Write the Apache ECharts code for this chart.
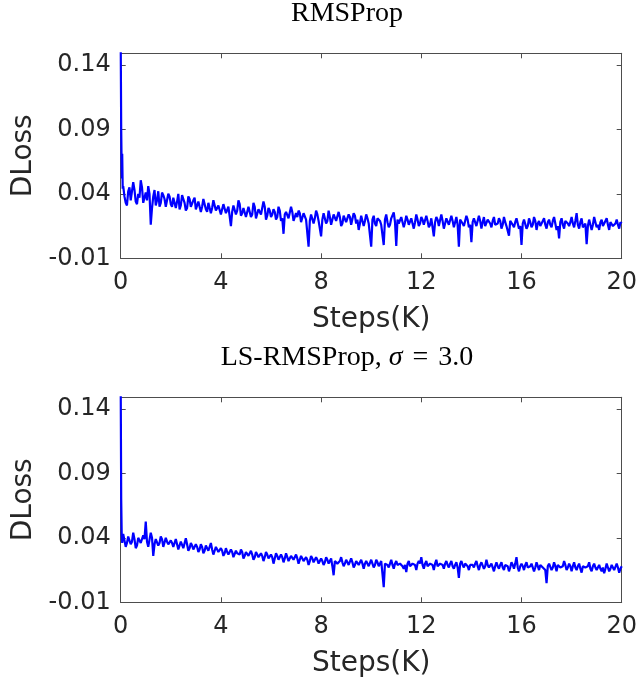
<!DOCTYPE html>
<html>
<head>
<meta charset="utf-8">
<script src="https://cdn.jsdelivr.net/npm/echarts@6/dist/echarts.min.js"></script>
<style>
html,body{margin:0;padding:0;background:#fff;}
#chart{width:641px;height:681px;}
</style>
</head>
<body>
<div id="chart"></div>
<script>
// ---------------- data ----------------
const titles = ['RMSProp', 'LS-RMSProp, {i|σ}{sp| }={sp| }3.0'];
const xName = 'Steps(K)';
const yName = 'DLoss';
const xTickLabels = ['0', '4', '8', '12', '16', '20'];
const yTickLabels = ['-0.01', '0.04', '0.09', '0.14'];

// first few logged points (steps in K)
const headSteps = [0, 0.02, 0.04, 0.06, 0.08];
const rmsHead = [0.16, 0.09, 0.058, 0.071, 0.044];
const lsHead = [0.16, 0.07, 0.043, 0.036, 0.041];

// logged points on the 0.1K grid
const bodySteps = [
0.1,0.2,0.3,0.4,0.5,0.6,0.7,0.8,0.9,1.0,
1.1,1.2,1.3,1.4,1.5,1.6,1.7,1.8,1.9,2.0,
2.1,2.2,2.3,2.4,2.5,2.6,2.7,2.8,2.9,3.0,
3.1,3.2,3.3,3.4,3.5,3.6,3.7,3.8,3.9,4.0,
4.1,4.2,4.3,4.4,4.5,4.6,4.7,4.8,4.9,5.0,
5.1,5.2,5.3,5.4,5.5,5.6,5.7,5.8,5.9,6.0,
6.1,6.2,6.3,6.4,6.5,6.6,6.7,6.8,6.9,7.0,
7.1,7.2,7.3,7.4,7.5,7.6,7.7,7.8,7.9,8.0,
8.1,8.2,8.3,8.4,8.5,8.6,8.7,8.8,8.9,9.0,
9.1,9.2,9.3,9.4,9.5,9.6,9.7,9.8,9.9,10.0,
10.1,10.2,10.3,10.4,10.5,10.6,10.7,10.8,10.9,11.0,
11.1,11.2,11.3,11.4,11.5,11.6,11.7,11.8,11.9,12.0,
12.1,12.2,12.3,12.4,12.5,12.6,12.7,12.8,12.9,13.0,
13.1,13.2,13.3,13.4,13.5,13.6,13.7,13.8,13.9,14.0,
14.1,14.2,14.3,14.4,14.5,14.6,14.7,14.8,14.9,15.0,
15.1,15.2,15.3,15.4,15.5,15.6,15.7,15.8,15.9,16.0,
16.1,16.2,16.3,16.4,16.5,16.6,16.7,16.8,16.9,17.0,
17.1,17.2,17.3,17.4,17.5,17.6,17.7,17.8,17.9,18.0,
18.1,18.2,18.3,18.4,18.5,18.6,18.7,18.8,18.9,19.0,
19.1,19.2,19.3,19.4,19.5,19.6,19.7,19.8,19.9,20.0
];

// logged points half-way between the grid points
const midSteps = [
0.05,0.15,0.25,0.35,0.45,0.55,0.65,0.75,0.85,0.95,
1.05,1.15,1.25,1.35,1.45,1.55,1.65,1.75,1.85,1.95,
2.05,2.15,2.25,2.35,2.45,2.55,2.65,2.75,2.85,2.95,
3.05,3.15,3.25,3.35,3.45,3.55,3.65,3.75,3.85,3.95,
4.05,4.15,4.25,4.35,4.45,4.55,4.65,4.75,4.85,4.95,
5.05,5.15,5.25,5.35,5.45,5.55,5.65,5.75,5.85,5.95,
6.05,6.15,6.25,6.35,6.45,6.55,6.65,6.75,6.85,6.95,
7.05,7.15,7.25,7.35,7.45,7.55,7.65,7.75,7.85,7.95,
8.05,8.15,8.25,8.35,8.45,8.55,8.65,8.75,8.85,8.95,
9.05,9.15,9.25,9.35,9.45,9.55,9.65,9.75,9.85,9.95,
10.05,10.15,10.25,10.35,10.45,10.55,10.65,10.75,10.85,10.95,
11.05,11.15,11.25,11.35,11.45,11.55,11.65,11.75,11.85,11.95,
12.05,12.15,12.25,12.35,12.45,12.55,12.65,12.75,12.85,12.95,
13.05,13.15,13.25,13.35,13.45,13.55,13.65,13.75,13.85,13.95,
14.05,14.15,14.25,14.35,14.45,14.55,14.65,14.75,14.85,14.95,
15.05,15.15,15.25,15.35,15.45,15.55,15.65,15.75,15.85,15.95,
16.05,16.15,16.25,16.35,16.45,16.55,16.65,16.75,16.85,16.95,
17.05,17.15,17.25,17.35,17.45,17.55,17.65,17.75,17.85,17.95,
18.05,18.15,18.25,18.35,18.45,18.55,18.65,18.75,18.85,18.95,
19.05,19.15,19.25,19.35,19.45,19.55,19.65,19.75,19.85,19.95
];

const rmsBody = [
0.046,0.033,0.042,0.035,0.049,0.034,0.040,0.0505,0.033,0.041,
0.046,0.016,0.038,0.031,0.042,0.033,0.039,0.030,0.040,0.032,
0.037,0.029,0.040,0.031,0.036,0.027,0.038,0.030,0.035,0.028,
0.034,0.026,0.036,0.028,0.033,0.025,0.035,0.027,0.031,0.024,
0.032,0.025,0.030,0.015,0.031,0.024,0.035,0.023,0.029,0.022,
0.030,0.022,0.033,0.021,0.028,0.024,0.034,0.020,0.029,0.022,
0.028,0.020,0.030,0.019,0.009,0.026,0.021,0.030,0.019,0.025,
0.027,0.018,0.025,0.020,-0.001,0.024,0.017,0.027,0.019,0.007,
0.025,0.017,0.027,0.016,0.024,0.019,0.026,0.015,0.023,0.018,
0.024,0.016,0.025,0.017,0.012,0.023,0.015,0.024,0.017,-0.001,
0.023,0.015,0.022,0.016,0.0003,0.024,0.014,0.021,0.0256,-0.0005,
0.017,0.022,0.014,0.023,0.016,0.021,0.013,0.024,0.015,0.022,
0.016,0.023,0.014,0.021,0.007,0.022,0.015,0.024,0.013,0.021,
0.016,0.023,0.014,0.022,-0.001,0.021,0.015,0.023,0.014,0.0025,
0.021,0.015,0.023,0.013,0.022,0.016,0.020,0.014,0.022,0.015,
0.021,0.013,0.022,0.015,0.0075,0.020,0.014,0.021,0.013,0.0003,
0.020,0.013,0.021,0.014,0.022,0.012,0.019,0.015,0.021,0.013,
0.020,0.014,0.022,0.012,0.0055,0.021,0.013,0.020,0.015,0.022,
0.014,0.025,0.013,0.021,0.015,0.001,0.020,0.012,0.022,0.014,
0.012,0.020,0.015,0.021,0.012,0.019,0.014,0.020,0.013,0.017
];

const rmsMid = [
0.052,0.038,0.031,0.045,0.036,0.043,0.032,0.037,0.045,0.034,
0.035,0.040,0.029,0.043,0.035,0.030,0.041,0.036,0.029,0.038,
0.030,0.038,0.034,0.028,0.039,0.033,0.029,0.036,0.031,0.037,
0.027,0.033,0.030,0.035,0.026,0.032,0.029,0.034,0.026,0.030,
0.028,0.033,0.024,0.029,0.026,0.031,0.027,0.032,0.025,0.030,
0.026,0.029,0.024,0.030,0.021,0.027,0.025,0.030,0.023,0.027,
0.024,0.026,0.022,0.027,0.021,0.024,0.027,0.022,0.026,0.020,
0.022,0.025,0.019,0.026,0.021,0.019,0.025,0.021,0.024,0.020,
0.020,0.024,0.019,0.022,0.017,0.025,0.020,0.022,0.017,0.024,
0.019,0.022,0.016,0.023,0.020,0.017,0.022,0.019,0.021,0.016,
0.020,0.017,0.021,0.019,0.015,0.020,0.018,0.016,0.020,0.018,
0.020,0.016,0.021,0.018,0.020,0.015,0.021,0.018,0.020,0.017,
0.020,0.017,0.019,0.016,0.021,0.018,0.020,0.016,0.019,0.017,
0.020,0.016,0.019,0.018,0.016,0.020,0.017,0.019,0.020,0.016,
0.018,0.020,0.016,0.019,0.018,0.015,0.020,0.017,0.019,0.016,
0.017,0.019,0.016,0.018,0.015,0.019,0.016,0.018,0.017,0.015,
0.017,0.019,0.015,0.018,0.016,0.019,0.017,0.015,0.019,0.016,
0.018,0.016,0.019,0.017,0.015,0.018,0.016,0.019,0.017,0.018,
0.017,0.019,0.016,0.018,0.014,0.017,0.015,0.019,0.016,0.018,
0.016,0.018,0.015,0.019,0.016,0.018,0.015,0.017,0.016,0.018
];

const lsBody = [
0.043,0.033,0.041,0.035,0.044,0.032,0.040,0.036,0.042,0.0527,
0.033,0.044,0.026,0.039,0.034,0.041,0.033,0.040,0.035,0.038,
0.033,0.039,0.031,0.037,0.032,0.0396,0.030,0.036,0.031,0.035,
0.029,0.035,0.028,0.034,0.030,0.036,0.027,0.033,0.029,0.032,
0.026,0.032,0.027,0.031,0.025,0.030,0.028,0.031,0.024,0.029,
0.026,0.030,0.023,0.029,0.025,0.028,0.022,0.029,0.024,0.027,
0.020,0.028,0.023,0.027,0.021,0.028,0.022,0.026,0.023,0.027,
0.020,0.026,0.022,0.025,0.019,0.026,0.021,0.025,0.020,0.024,
0.019,0.025,0.020,0.024,0.011,0.023,0.019,0.025,0.018,0.023,
0.019,0.024,0.017,0.022,0.019,0.023,0.016,0.022,0.018,0.023,
0.017,0.023,0.018,0.022,0.0017,0.021,0.017,0.023,0.016,0.022,
0.018,0.021,0.016,0.0134,0.022,0.017,0.021,0.015,0.022,0.025,
0.016,0.022,0.017,0.021,0.015,0.023,0.017,0.021,0.016,0.022,
0.017,0.022,0.016,0.021,0.009,0.022,0.017,0.021,0.015,0.020,
0.017,0.022,0.015,0.021,0.016,0.023,0.017,0.020,0.014,0.021,
0.016,0.021,0.015,0.020,0.014,0.021,0.016,0.025,0.014,0.020,
0.015,0.021,0.016,0.020,0.014,0.021,0.015,0.020,0.016,0.0048,
0.020,0.015,0.021,0.014,0.020,0.016,0.022,0.015,0.020,0.014,
0.021,0.015,0.020,0.013,0.019,0.016,0.021,0.014,0.020,0.015,
0.019,0.014,0.0126,0.020,0.014,0.019,0.015,0.020,0.013,0.018
];

const lsMid = [
0.040,0.038,0.036,0.040,0.037,0.039,0.034,0.041,0.037,0.039,
0.037,0.034,0.040,0.035,0.038,0.036,0.039,0.034,0.037,0.035,
0.036,0.033,0.035,0.032,0.036,0.033,0.035,0.032,0.034,0.031,
0.033,0.031,0.033,0.030,0.032,0.029,0.031,0.030,0.032,0.028,
0.030,0.028,0.029,0.027,0.029,0.026,0.028,0.027,0.029,0.026,
0.028,0.026,0.027,0.025,0.027,0.024,0.026,0.025,0.027,0.024,
0.025,0.024,0.026,0.023,0.025,0.024,0.025,0.022,0.025,0.023,
0.024,0.023,0.024,0.022,0.023,0.022,0.024,0.021,0.023,0.022,
0.022,0.021,0.023,0.020,0.018,0.022,0.020,0.022,0.021,0.020,
0.021,0.020,0.021,0.019,0.021,0.019,0.020,0.020,0.021,0.019,
0.020,0.019,0.021,0.019,0.012,0.020,0.019,0.020,0.019,0.020,
0.019,0.020,0.018,0.019,0.020,0.018,0.020,0.019,0.020,0.020,
0.019,0.020,0.018,0.020,0.019,0.020,0.018,0.020,0.019,0.020,
0.019,0.020,0.018,0.019,0.017,0.020,0.019,0.020,0.018,0.019,
0.019,0.020,0.018,0.019,0.020,0.018,0.019,0.018,0.019,0.018,
0.018,0.019,0.017,0.019,0.018,0.017,0.019,0.020,0.017,0.018,
0.018,0.019,0.017,0.018,0.019,0.017,0.018,0.019,0.017,0.015,
0.018,0.019,0.017,0.018,0.019,0.017,0.018,0.019,0.017,0.018,
0.018,0.017,0.018,0.016,0.018,0.017,0.018,0.016,0.018,0.017,
0.017,0.016,0.017,0.016,0.017,0.016,0.017,0.016,0.017,0.016
];

// ---------------- chart ----------------
const chart = echarts.init(document.getElementById('chart'), null, {renderer: 'canvas'});
const sans = '"DejaVu Sans", sans-serif';
const serif = '"Liberation Serif", serif';
const axisColor = '#4d4d4d';
const textColor = '#262626';

function pairs(steps, vals) { return steps.map((s, i) => [s, vals[i]]); }
function merged(head, body, mid) {
  return pairs(headSteps, head)
    .concat(pairs(bodySteps, body))
    .concat(pairs(midSteps, mid))
    .sort((a, b) => a[0] - b[0]);
}
const rmsData = merged(rmsHead, rmsBody, rmsMid);
const lsData = merged(lsHead, lsBody, lsMid);

function matchLabel(list, v) {
  const m = list.find(l => Math.abs(parseFloat(l) - v) < 1e-6);
  return m === undefined ? '' : m;
}

const gridLeft = 120.7, gridWidth = 501, gridHeight = 205;
const gridTops = [53.3, 397.3];

function xAxes(g) {
  const common = {
    gridIndex: g, type: 'value', min: 0, max: 20, interval: 4,
    axisLine: {show: true, onZero: false, lineStyle: {color: axisColor, width: 1}},
    axisTick: {show: true, inside: true, length: 5, lineStyle: {color: axisColor, width: 1}},
    splitLine: {show: false}
  };
  return [
    Object.assign({}, common, {
      position: 'bottom',
      name: xName, nameLocation: 'middle', nameGap: 47,
      nameTextStyle: {fontSize: 28, color: textColor, fontFamily: sans},
      axisLabel: {show: true, fontSize: 24, color: textColor, fontFamily: sans, margin: 12,
        formatter: v => matchLabel(xTickLabels, v)}
    }),
    Object.assign({}, common, {position: 'top', axisLabel: {show: false}})
  ];
}
function yAxes(g) {
  const common = {
    gridIndex: g, type: 'value', min: -0.01, max: 0.149, interval: 0.05,
    axisLine: {show: true, onZero: false, lineStyle: {color: axisColor, width: 1}},
    axisTick: {show: true, inside: true, length: 5, lineStyle: {color: axisColor, width: 1}},
    splitLine: {show: false}
  };
  return [
    Object.assign({}, common, {
      position: 'left',
      name: yName, nameLocation: 'middle', nameRotate: 90, nameGap: 81,
      nameTextStyle: {fontSize: 28, color: textColor, fontFamily: sans},
      axisLabel: {show: true, fontSize: 24, color: textColor, fontFamily: sans, margin: 10,
        formatter: v => matchLabel(yTickLabels, v)}
    }),
    Object.assign({}, common, {position: 'right', axisLabel: {show: false}})
  ];
}

const option = {
  animation: false,
  backgroundColor: '#ffffff',
  grid: gridTops.map(t => ({left: gridLeft, top: t, width: gridWidth, height: gridHeight, containLabel: false})),
  xAxis: xAxes(0).concat(xAxes(1)),
  yAxis: yAxes(0).concat(yAxes(1)),
  graphic: [
    {type: 'text', x: 347, y: 14, style: {
      text: titles[0], font: '28px ' + serif, fill: '#000',
      align: 'center', verticalAlign: 'middle', textAlign: 'center', textVerticalAlign: 'middle'}},
    {type: 'text', x: 347, y: 358, style: {
      text: titles[1], font: '28px ' + serif, fill: '#000',
      align: 'center', verticalAlign: 'middle', textAlign: 'center', textVerticalAlign: 'middle',
      rich: {
        i: {font: 'italic 28px ' + serif, fill: '#000'},
        sp: {font: '28px ' + serif, width: 10}
      }}}
  ],
  series: [
    {type: 'line', xAxisIndex: 0, yAxisIndex: 0, data: rmsData, showSymbol: false, symbol: 'none',
      clip: true, lineStyle: {color: '#0000ff', width: 2.2}},
    {type: 'line', xAxisIndex: 2, yAxisIndex: 2, data: lsData, showSymbol: false, symbol: 'none',
      clip: true, lineStyle: {color: '#0000ff', width: 2.2}}
  ]
};
chart.setOption(option);
</script>
</body>
</html>
